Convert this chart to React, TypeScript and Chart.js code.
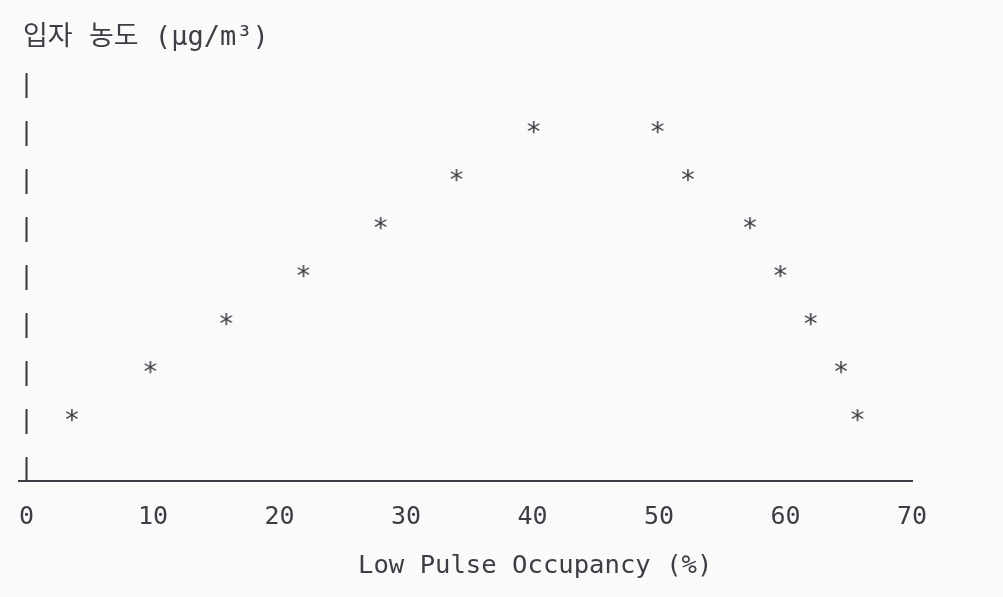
import React, { useEffect, useRef } from "react";
import { Chart, registerables } from "chart.js";

Chart.register(...registerables);

const occupancy = [3.6, 9.8, 15.8, 21.9, 28.0, 34.0, 40.1, 49.9, 52.3, 57.2, 59.6, 62.0, 64.4, 65.7];
const concentration = [1, 2, 3, 4, 5, 6, 7, 7, 6, 5, 4, 3, 2, 1];
const xTicks = [0, 10, 20, 30, 40, 50, 60, 70];
const yRows = [0, 1, 2, 3, 4, 5, 6, 7, 8];
const titleText = "입자 농도 (μg/m³)";
const xTitleText = "                      Low Pulse Occupancy (%)";

const INK = "#3b3f45";
const FONT = '"DejaVu Sans Mono", "Noto Sans CJK KR", monospace';

function makeStar(): HTMLCanvasElement {
  const c = document.createElement("canvas");
  c.width = 30;
  c.height = 30;
  const ctx = c.getContext("2d")!;
  const size = 27;
  ctx.font = `${size}px ${FONT}`;
  ctx.fillStyle = INK;
  ctx.textAlign = "center";
  ctx.textBaseline = "alphabetic";
  ctx.fillText("*", 15, 15 - 8.2 + 0.568 * size);
  return c;
}

const titleShift = {
  id: "titleShift",
  afterLayout(chart: any) {
    if (chart.titleBlock) chart.titleBlock.left += 4;
  },
};

export default function App() {
  const ref = useRef<HTMLCanvasElement | null>(null);
  useEffect(() => {
    document.body.style.margin = "0";
    const star = makeStar();
    const chart = new Chart(ref.current!, {
      type: "scatter",
      data: {
        datasets: [
          {
            data: occupancy.map((x, i) => ({ x, y: concentration[i] })),
            pointStyle: star,
            pointRadius: 8,
            showLine: false,
          },
        ],
      },
      plugins: [titleShift],
      options: {
        animation: false,
        responsive: true,
        maintainAspectRatio: false,
        layout: { padding: { left: 19, right: 91, top: 0, bottom: 0 } },
        plugins: {
          legend: { display: false },
          tooltip: { enabled: false },
          title: {
            display: true,
            text: titleText,
            align: "start",
            color: INK,
            font: { family: FONT, size: 27, weight: "normal", lineHeight: 1.2 },
            padding: { top: 21.6, bottom: 10 },
          },
        },
        scales: {
          x: {
            type: "linear",
            min: -0.593,
            max: 70,
            afterBuildTicks: (scale: any) => {
              scale.ticks = xTicks.map((v) => ({ value: v }));
            },
            grid: { display: false, drawTicks: false },
            border: { display: true, color: INK, width: 2 },
            ticks: {
              color: INK,
              autoSkip: false,
              maxRotation: 0,
              padding: 0,
              font: { family: FONT, size: 25, lineHeight: 2.912 },
            },
            title: {
              display: true,
              text: xTitleText,
              align: "start",
              color: INK,
              font: { family: FONT, size: 25.6, lineHeight: 0.745 },
              padding: { top: 3.13, bottom: 21.2 },
            },
          },
          y: {
            type: "linear",
            min: -0.225,
            max: 8.458,
            afterBuildTicks: (scale: any) => {
              scale.ticks = yRows.map((v) => ({ value: v }));
            },
            grid: { display: false, drawTicks: false },
            border: { display: false },
            ticks: {
              color: INK,
              mirror: true,
              crossAlign: "near",
              padding: 0,
              autoSkip: false,
              callback: () => "|",
              font: { family: FONT, size: 25, lineHeight: 1.2 },
            },
          },
        },
      },
    });
    return () => chart.destroy();
  }, []);
  return (
    <div style={{ position: "fixed", left: 0, top: 0, width: 1003, height: 597, background: "#fafafa" }}>
      <canvas ref={ref} />
    </div>
  );
}
